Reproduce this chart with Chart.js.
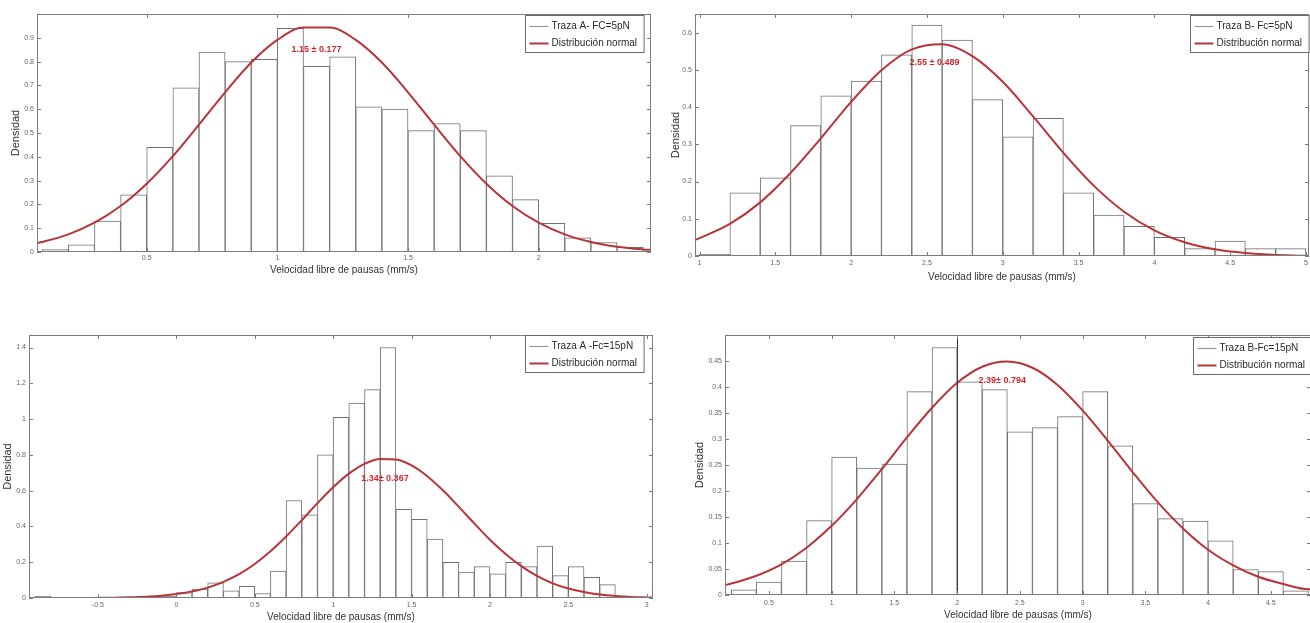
<!DOCTYPE html>
<html>
<head>
<meta charset="utf-8">
<script src="https://cdn.jsdelivr.net/npm/chart.js@4.4.1/dist/chart.umd.min.js"></script>
<style>
  body { margin: 0; background: #fff; width: 1310px; height: 623px; overflow: hidden; position: relative; }
  canvas { position: absolute; }
</style>
</head>
<body>
<canvas id="c1" width="660" height="290" style="left:0;top:0"></canvas>
<canvas id="c2" width="680" height="290" style="left:650px;top:0"></canvas>
<canvas id="c3" width="660" height="323" style="left:0;top:300px"></canvas>
<canvas id="c4" width="680" height="323" style="left:650px;top:300px"></canvas>
<script>
  // Traza A, Fc=5pN
  const binsA5 = [0.15, 0.25, 0.35, 0.45, 0.55, 0.65, 0.75, 0.85, 0.95, 1.05, 1.15, 1.25, 1.35, 1.45, 1.55, 1.65, 1.75, 1.85, 1.95, 2.05, 2.15, 2.25, 2.35];
  const densA5 = [0.01, 0.03, 0.13, 0.24, 0.44, 0.69, 0.84, 0.80, 0.81, 0.94, 0.78, 0.82, 0.61, 0.60, 0.51, 0.54, 0.51, 0.32, 0.22, 0.12, 0.06, 0.04, 0.02];
  const fitXA5 = [0.08, 0.1, 0.2, 0.3, 0.4, 0.5, 0.6, 0.7, 0.8, 0.9, 1.0, 1.1, 1.2, 1.3, 1.4, 1.5, 1.6, 1.7, 1.8, 1.9, 2.0, 2.1, 2.2, 2.3, 2.4, 2.43];
  const fitYA5 = [0.037, 0.042, 0.074, 0.123, 0.193, 0.287, 0.403, 0.535, 0.671, 0.796, 0.891, 0.943, 0.943, 0.891, 0.796, 0.671, 0.535, 0.403, 0.287, 0.193, 0.123, 0.074, 0.042, 0.022, 0.011, 0.009];
  const xTicksA5 = [0.5, 1, 1.5, 2];
  const yTicksA5 = [0, 0.1, 0.2, 0.3, 0.4, 0.5, 0.6, 0.7, 0.8, 0.9];

  // Traza B, Fc=5pN
  const binsB5 = [1.1, 1.3, 1.5, 1.7, 1.9, 2.1, 2.3, 2.5, 2.7, 2.9, 3.1, 3.3, 3.5, 3.7, 3.9, 4.1, 4.3, 4.5, 4.7, 4.9];
  const densB5 = [0.005, 0.17, 0.21, 0.35, 0.43, 0.47, 0.54, 0.62, 0.58, 0.42, 0.32, 0.37, 0.17, 0.11, 0.08, 0.05, 0.02, 0.04, 0.02, 0.02];
  const fitXB5 = [0.97, 1.0, 1.2, 1.4, 1.6, 1.8, 2.0, 2.2, 2.4, 2.6, 2.8, 3.0, 3.2, 3.4, 3.6, 3.8, 4.0, 4.2, 4.4, 4.6, 4.8, 5.0, 5.02];
  const fitYB5 = [0.043, 0.048, 0.086, 0.144, 0.223, 0.316, 0.414, 0.499, 0.555, 0.569, 0.537, 0.468, 0.375, 0.277, 0.189, 0.119, 0.069, 0.037, 0.018, 0.008, 0.003, 0.001, 0.001];
  const xTicksB5 = [1, 1.5, 2, 2.5, 3, 3.5, 4, 4.5, 5];
  const yTicksB5 = [0, 0.1, 0.2, 0.3, 0.4, 0.5, 0.6];

  // Traza A, Fc=15pN
  const binsA15 = [-0.85, -0.75, -0.65, -0.55, -0.45, -0.35, -0.25, -0.15, -0.05, 0.05, 0.15, 0.25, 0.35, 0.45, 0.55, 0.65, 0.75, 0.85, 0.95, 1.05, 1.15, 1.25, 1.35, 1.45, 1.55, 1.65, 1.75, 1.85, 1.95, 2.05, 2.15, 2.25, 2.35, 2.45, 2.55, 2.65, 2.75, 2.85, 2.95];
  const densA15 = [0.01, 0, 0, 0, 0, 0, 0.005, 0.008, 0.01, 0.03, 0.05, 0.085, 0.04, 0.065, 0.025, 0.15, 0.545, 0.465, 0.80, 1.01, 1.09, 1.165, 1.40, 0.495, 0.44, 0.33, 0.20, 0.145, 0.175, 0.135, 0.20, 0.175, 0.29, 0.125, 0.175, 0.115, 0.075, 0.01, 0.005];
  const fitXA15 = [-0.94, -0.9, -0.8, -0.7, -0.6, -0.5, -0.4, -0.3, -0.2, -0.1, 0, 0.1, 0.2, 0.3, 0.4, 0.5, 0.6, 0.7, 0.8, 0.9, 1.0, 1.1, 1.2, 1.3, 1.4, 1.5, 1.6, 1.7, 1.8, 1.9, 2.0, 2.1, 2.2, 2.3, 2.4, 2.5, 2.6, 2.7, 2.8, 2.9, 3.0, 3.04];
  const fitYA15 = [0, 0, 0, 0, 0, 0.001, 0.002, 0.004, 0.007, 0.012, 0.022, 0.036, 0.058, 0.090, 0.133, 0.190, 0.261, 0.344, 0.435, 0.530, 0.619, 0.695, 0.750, 0.777, 0.774, 0.741, 0.681, 0.602, 0.511, 0.417, 0.326, 0.246, 0.178, 0.123, 0.082, 0.053, 0.033, 0.019, 0.011, 0.006, 0.003, 0.002];
  const xTicksA15 = [-0.5, 0, 0.5, 1, 1.5, 2, 2.5, 3];
  const yTicksA15 = [0, 0.2, 0.4, 0.6, 0.8, 1, 1.2, 1.4];

  // Traza B, Fc=15pN
  const binsB15 = [0.3, 0.5, 0.7, 0.9, 1.1, 1.3, 1.5, 1.7, 1.9, 2.1, 2.3, 2.5, 2.7, 2.9, 3.1, 3.3, 3.5, 3.7, 3.9, 4.1, 4.3, 4.5, 4.7];
  const densB15 = [0.01, 0.025, 0.065, 0.143, 0.265, 0.244, 0.252, 0.391, 0.476, 0.41, 0.395, 0.314, 0.322, 0.343, 0.391, 0.287, 0.176, 0.147, 0.142, 0.104, 0.049, 0.045, 0.008];
  const fitXB15 = [0.15, 0.2, 0.4, 0.6, 0.8, 1.0, 1.2, 1.4, 1.6, 1.8, 2.0, 2.2, 2.4, 2.6, 2.8, 3.0, 3.2, 3.4, 3.6, 3.8, 4.0, 4.2, 4.4, 4.6, 4.8, 4.82];
  const fitYB15 = [0.019, 0.022, 0.037, 0.059, 0.091, 0.133, 0.184, 0.242, 0.303, 0.360, 0.408, 0.439, 0.449, 0.437, 0.404, 0.355, 0.297, 0.236, 0.178, 0.128, 0.087, 0.057, 0.035, 0.021, 0.011, 0.011];
  const xTicksB15 = [0.5, 1, 1.5, 2, 2.5, 3, 3.5, 4, 4.5];
  const yTicksB15 = [0, 0.05, 0.1, 0.15, 0.2, 0.25, 0.3, 0.35, 0.4, 0.45];
  const vLinesB15 = [2];

  const FONT = 'Liberation Sans, Arial, sans-serif';
  const RED = '#b8343a';
  const fitLabel = 'Distribución normal';

  // Frame, inward ticks, legend and the mean/sd note, MATLAB style.
  const matlabBox = {
    id: 'matlabBox',
    afterDatasetsDraw(chart, args, o) {
      const { ctx, chartArea: a, scales: { x, y } } = chart;
      const seg = (x1, y1, x2, y2) => { ctx.beginPath(); ctx.moveTo(x1, y1); ctx.lineTo(x2, y2); ctx.stroke(); };
      ctx.save();
      ctx.lineWidth = 1;
      ctx.strokeStyle = '#3a3a3a';
      (o.vLines || []).forEach(v => {
        const px = Math.round(x.getPixelForValue(v)) + 0.5;
        seg(px, a.top, px, a.bottom);
      });
      ctx.strokeStyle = '#7d7d7d';
      ctx.strokeRect(a.left + 0.5, a.top + 0.5, a.width - 1, a.height - 1);
      x.ticks.forEach(t => {
        const px = Math.round(x.getPixelForValue(t.value)) + 0.5;
        seg(px, a.bottom, px, a.bottom - 4);
        seg(px, a.top, px, a.top + 4);
      });
      y.ticks.forEach(t => {
        const py = Math.round(y.getPixelForValue(t.value)) + 0.5;
        seg(a.left, py, a.left + 4, py);
        seg(a.right, py, a.right - 4, py);
      });

      // note
      ctx.fillStyle = '#d3262c';
      ctx.font = 'bold 9px ' + FONT;
      ctx.textAlign = 'center';
      ctx.textBaseline = 'middle';
      ctx.fillText(o.note, x.getPixelForValue(o.noteX), y.getPixelForValue(o.noteY));

      // legend
      ctx.font = '10px ' + FONT;
      const w = 26 + Math.max(ctx.measureText(o.name).width, ctx.measureText(fitLabel).width) + 7;
      const lx = Math.round(a.right + o.legendDx) + 0.5;
      const ly = Math.round(a.top + o.legendDy) + 0.5;
      ctx.fillStyle = '#fff';
      ctx.fillRect(lx, ly, w, 37);
      ctx.strokeStyle = '#6a6a6a';
      ctx.strokeRect(lx, ly, w, 37);
      ctx.lineWidth = 1.2;
      ctx.strokeStyle = '#9a9a9a';
      seg(lx + 4, ly + 11, lx + 23, ly + 11);
      ctx.lineWidth = 2;
      ctx.strokeStyle = RED;
      seg(lx + 4, ly + 28, lx + 23, ly + 28);
      ctx.fillStyle = '#2a2a2a';
      ctx.textAlign = 'left';
      ctx.fillText(o.name, lx + 26, ly + 11);
      ctx.fillText(fitLabel, lx + 26, ly + 28);
      ctx.restore();
    }
  };

  function histChart(id, o) {
    return new Chart(document.getElementById(id), {
      type: 'bar',
      data: {
        datasets: [
          {
            type: 'line',
            label: fitLabel,
            data: o.fitX.map((v, i) => ({ x: v, y: o.fitY[i] })),
            borderColor: RED,
            borderWidth: 2,
            pointRadius: 0,
            cubicInterpolationMode: 'monotone',
            order: 0
          },
          {
            type: 'bar',
            label: o.name,
            data: o.bins.map((v, i) => ({ x: v, y: o.dens[i] })),
            backgroundColor: '#ffffff',
            borderColor: '#727272',
            borderWidth: 1,
            barPercentage: 1,
            categoryPercentage: 1,
            order: 1
          }
        ]
      },
      options: {
        responsive: false,
        animation: false,
        devicePixelRatio: 1,
        layout: { padding: { left: 0, top: o.top, right: o.padRight, bottom: 0 } },
        plugins: {
          legend: { display: false },
          tooltip: { enabled: false },
          matlabBox: o
        },
        scales: {
          x: {
            type: 'linear',
            min: o.xMin,
            max: o.xMax,
            offset: false,
            grid: { display: false, drawTicks: false },
            border: { display: false },
            afterBuildTicks: s => { s.ticks = o.xTicks.map(v => ({ value: v })); },
            ticks: { font: { size: 7, family: FONT }, color: '#666', padding: o.xTickPad, maxRotation: 0, autoSkip: false, callback: v => String(v) },
            title: { display: true, text: 'Velocidad libre de pausas (mm/s)', font: { size: 10, family: FONT }, color: '#333', padding: { top: 0, bottom: o.xTitlePad } },
            afterFit: s => { s.height = o.xAxisH; s.paddingLeft = 0; s.paddingRight = 0; }
          },
          y: {
            min: 0,
            max: o.yMax,
            grid: { display: false, drawTicks: false },
            border: { display: false },
            afterBuildTicks: s => { s.ticks = o.yTicks.map(v => ({ value: v })); },
            ticks: { font: { size: 7, family: FONT }, color: '#666', padding: 3, autoSkip: false, callback: v => String(v) },
            title: { display: true, text: 'Densidad', font: { size: 11, family: FONT }, color: '#333', padding: { top: o.yTitlePad, bottom: 0 } },
            afterFit: s => { s.width = o.left; s.paddingTop = 0; s.paddingBottom = 0; }
          }
        }
      },
      plugins: [matlabBox]
    });
  }

  histChart('c1', {
    name: 'Traza A- FC=5pN', bins: binsA5, dens: densA5, fitX: fitXA5, fitY: fitYA5,
    xTicks: xTicksA5, yTicks: yTicksA5, xMin: 0.08, xMax: 2.43, yMax: 1.0,
    note: '1.15 ± 0.177', noteX: 1.15, noteY: 0.85,
    left: 37, top: 14, padRight: 9, xAxisH: 38, xTickPad: 2, xTitlePad: 14, yTitlePad: 9,
    legendDx: -126, legendDy: 1
  });

  histChart('c2', {
    name: 'Traza B- Fc=5pN', bins: binsB5, dens: densB5, fitX: fitXB5, fitY: fitYB5,
    xTicks: xTicksB5, yTicks: yTicksB5, xMin: 0.97, xMax: 5.02, yMax: 0.65,
    note: '2.55 ± 0.489', noteX: 2.55, noteY: 0.52,
    left: 45, top: 14, padRight: 21, xAxisH: 34, xTickPad: 3, xTitlePad: 7, yTitlePad: 19,
    legendDx: -119, legendDy: 1
  });

  histChart('c3', {
    name: 'Traza A -Fc=15pN', bins: binsA15, dens: densA15, fitX: fitXA15, fitY: fitYA15,
    xTicks: xTicksA15, yTicks: yTicksA15, xMin: -0.94, xMax: 3.04, yMax: 1.47,
    note: '1.34± 0.367', noteX: 1.33, noteY: 0.668,
    left: 29, top: 35, padRight: 7, xAxisH: 25, xTickPad: 3, xTitlePad: 0, yTitlePad: 1,
    legendDx: -128, legendDy: 0
  });

  histChart('c4', {
    name: 'Traza B-Fc=15pN', bins: binsB15, dens: densB15, fitX: fitXB15, fitY: fitYB15,
    xTicks: xTicksB15, yTicks: yTicksB15, xMin: 0.15, xMax: 4.82, yMax: 0.5,
    note: '2.39± 0.794', noteX: 2.36, noteY: 0.413, vLines: vLinesB15,
    left: 75, top: 35, padRight: 19, xAxisH: 28, xTickPad: 4, xTitlePad: 2, yTitlePad: 43,
    legendDx: -118, legendDy: 2
  });
</script>
</body>
</html>
